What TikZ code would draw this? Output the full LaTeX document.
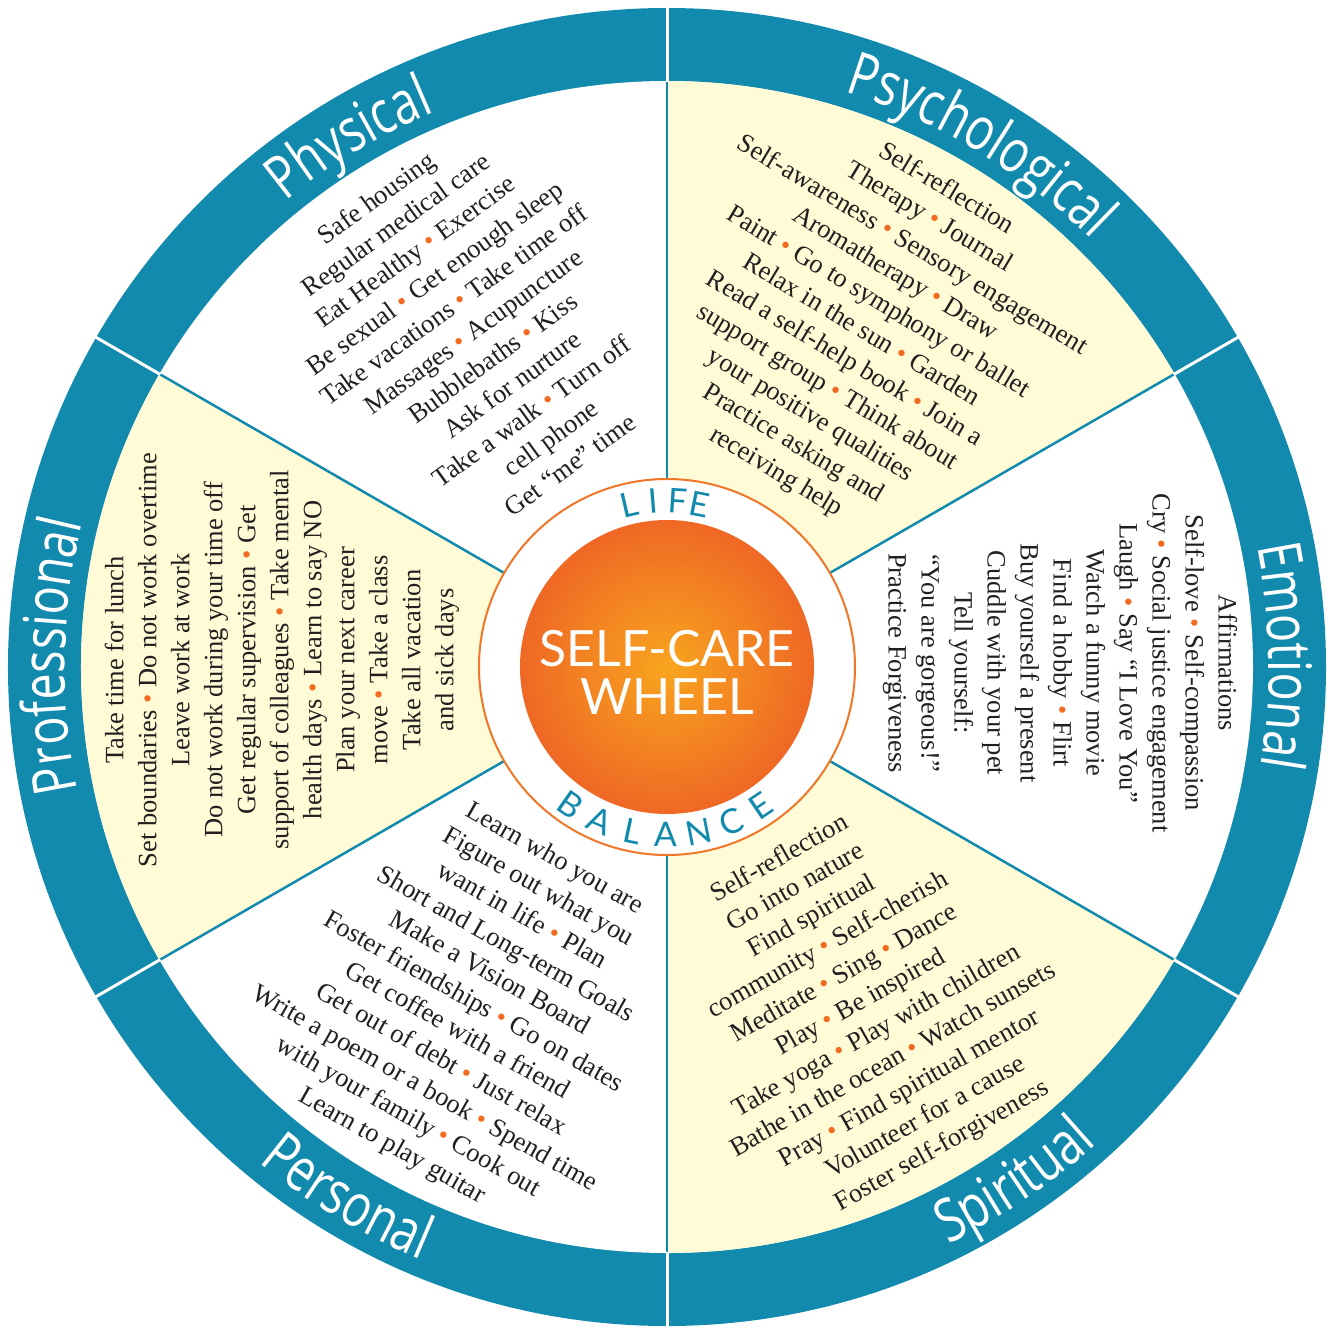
\documentclass[tikz,border=0pt]{standalone}
\usepackage{fontspec}
\setmainfont{Liberation Serif}
\newfontfamily\catfont{Open Sans}[FakeStretch=0.78]
\newfontfamily\hubfont{Lato}
\usetikzlibrary{decorations.text}

\definecolor{wheelteal}{RGB}{18,138,173}
\definecolor{wheelcream}{RGB}{255,251,214}
\definecolor{dotorange}{RGB}{242,107,33}
\definecolor{ringorange}{RGB}{240,118,40}
\definecolor{ballinner}{RGB}{248,165,30}
\definecolor{ballouter}{RGB}{239,104,37}
\definecolor{ink}{RGB}{35,31,32}

\newcommand{\bul}{\textcolor{dotorange}{\textbullet}}
\newcommand{\catstyle}{\catfont\fontsize{60}{70}\selectfont\color{white}}

\tikzset{
  items/.style={align=center, inner sep=0pt, text=ink,
    font=\fontsize{26.5}{33}\selectfont},
  catlabel/.style={decorate, decoration={text along path,
    text align=center, text={|\catstyle|#1}}},
  hubletter/.style={text=wheelteal, inner sep=0pt, anchor=base,
    font=\hubfont\fontsize{34}{34}\selectfont},
}

\begin{document}
\begin{tikzpicture}[x=1pt,y=1pt]
  \useasboundingbox (-667,-664) rectangle (673,667);
  \fill[wheelteal] (0,0) circle[radius=659pt];
  \fill[white] (0,0) circle[radius=586pt];
  \foreach \a in {30,150,270}
    \fill[wheelcream] (0,0) -- (\a:586pt)
      arc[start angle=\a, end angle=\a+60, radius=586pt] -- cycle;
  \foreach \a in {30,90,...,330} {
    \draw[wheelteal, line width=2.5pt] (\a:188pt) -- (\a:587pt);
    \draw[white, line width=3pt] (\a:585pt) -- (\a:662pt);
  }
  \draw[ringorange, line width=2pt, fill=white] (0,0) circle[radius=188pt];
  \shade[inner color=ballinner, outer color=ballouter]
    (0,0) circle[radius=147pt];

  \node[text=white, align=center, inner sep=0pt,
    font=\hubfont\fontsize{50}{48}\selectfont] (hub) at (0,-5)
    {SELF-CARE\\WHEEL};
  \foreach \l/\a [count=\i] in {L/103,I/94.7,F/86.4,E/78.8}
    \node[hubletter, rotate=\a-90] (life\i) at (\a:154pt) {\l};
  \foreach \l/\a [count=\i] in {B/235,A/246.5,L/258,A/269.5,N/281,C/292.5,E/304}
    \node[hubletter, rotate=\a+90] (balance\i) at (\a:180pt) {\l};

  \path[catlabel=Physical] (151:602pt) arc[start angle=151, end angle=91, radius=602pt];
  \path[catlabel=Psychological] (89:602pt) arc[start angle=89, end angle=29, radius=602pt];
  \path[catlabel=Emotional] (31:602pt) arc[start angle=31, end angle=-29, radius=602pt];
  \path[catlabel=Professional] (209:602pt) arc[start angle=209, end angle=149, radius=602pt];
  \path[catlabel=Personal] (209:642pt) arc[start angle=209, end angle=269, radius=642pt];
  \path[catlabel=Spiritual] (274:642pt) arc[start angle=274, end angle=334, radius=642pt];

  \node[items, rotate=36] (physical) at (120:388pt) {Safe housing\\
    Regular medical care\\
    Eat Healthy \bul{} Exercise\\
    Be sexual \bul{} Get enough sleep\\
    Take vacations \bul{} Take time off\\
    Massages \bul{} Acupuncture\\
    Bubblebaths \bul{} Kiss\\
    Ask for nurture\\
    Take a walk \bul{} Turn off\\
    cell phone\\
    Get “me” time};
  \node[items, rotate=-31] (psychological) at (60:388pt) {Self-reflection\\
    Therapy \bul{} Journal\\
    Self-awareness \bul{} Sensory engagement\\
    Aromatherapy \bul{} Draw\\
    Paint \bul{} Go to symphony or ballet\\
    Relax in the sun \bul{} Garden\\
    Read a self-help book \bul{} Join a\\
    support group \bul{} Think about\\
    your positive qualities\\
    Practice asking and\\
    receiving help};
  \node[items, rotate=-90] (emotional) at (393,4) {Affirmations\\
    Self-love \bul{} Self-compassion\\
    Cry \bul{} Social justice engagement\\
    Laugh \bul{} Say “I Love You”\\
    Watch a funny movie\\
    Find a hobby \bul{} Flirt\\
    Buy yourself a present\\
    Cuddle with your pet\\
    Tell yourself:\\
    “You are gorgeous!”\\
    Practice Forgiveness};
  \node[items, rotate=90] (professional) at (-385,7) {Take time for lunch\\
    Set boundaries \bul{} Do not work overtime\\
    Leave work at work\\
    Do not work during your time off\\
    Get regular supervision \bul{} Get\\
    support of colleagues \bul{} Take mental\\
    health days \bul{} Learn to say NO\\
    Plan your next career\\
    move \bul{} Take a class\\
    Take all vacation\\
    and sick days};
  \node[items, rotate=-29.5] (personal) at (240:388pt) {Learn who you are\\
    Figure out what you\\
    want in life \bul{} Plan\\
    Short and Long-term Goals\\
    Make a Vision Board\\
    Foster friendships \bul{} Go on dates\\
    Get coffee with a friend\\
    Get out of debt \bul{} Just relax\\
    Write a poem or a book \bul{} Spend time\\
    with your family \bul{} Cook out\\
    Learn to play guitar};
  \node[items, rotate=29.5] (spiritual) at (300:388pt) {Self-reflection\\
    Go into nature\\
    Find spiritual\\
    community \bul{} Self-cherish\\
    Meditate \bul{} Sing \bul{} Dance\\
    Play \bul{} Be inspired\\
    Take yoga \bul{} Play with children\\
    Bathe in the ocean \bul{} Watch sunsets\\
    Pray \bul{} Find spiritual mentor\\
    Volunteer for a cause\\
    Foster self-forgiveness};
\end{tikzpicture}
\end{document}
